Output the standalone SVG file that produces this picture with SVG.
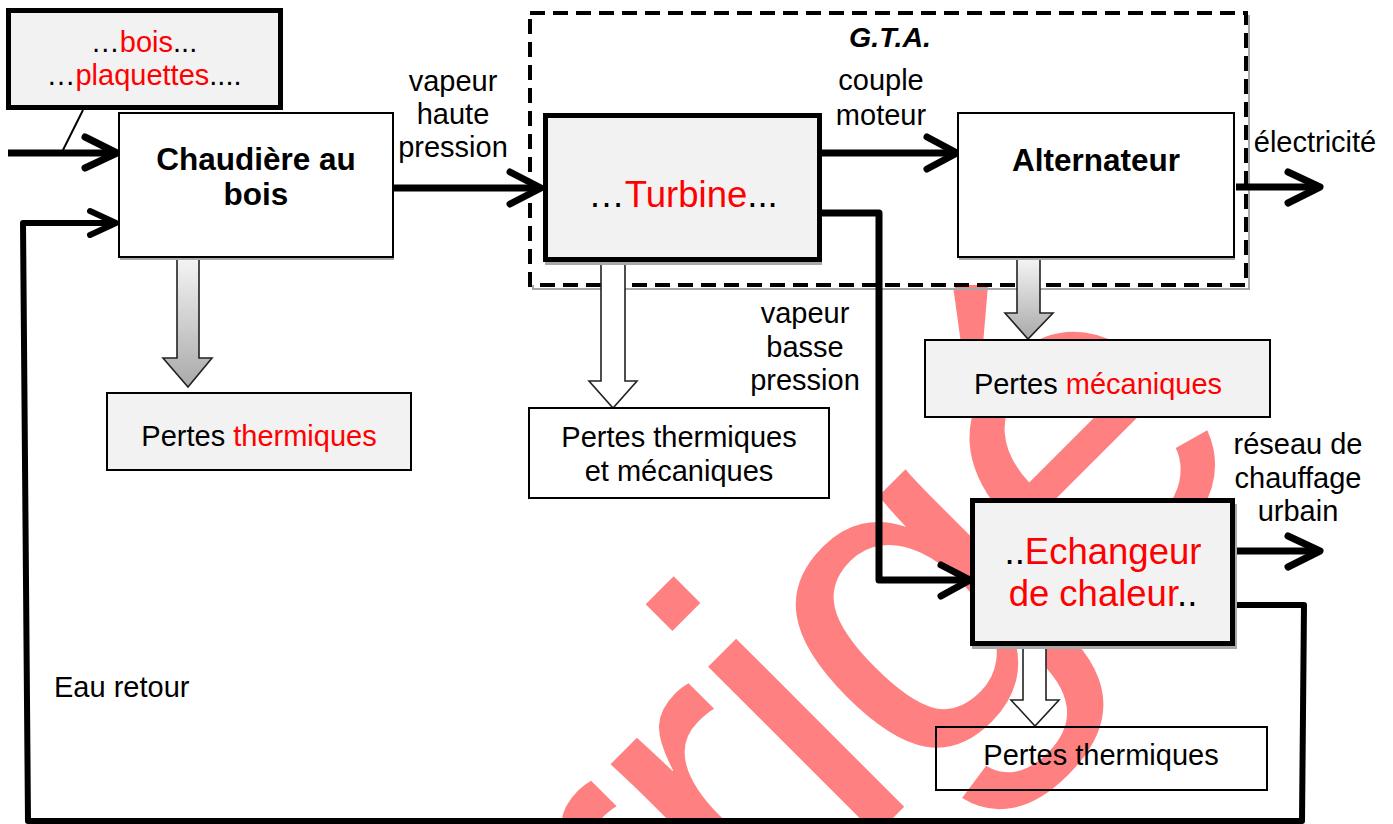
<svg xmlns="http://www.w3.org/2000/svg" width="1393" height="824" viewBox="0 0 1393 824">
<defs>
<style>
text{font-family:"Liberation Sans",Arial,sans-serif;fill:#000}
.r{font-size:29px;text-anchor:middle}
.b{font-size:31.5px;font-weight:bold;text-anchor:middle}
.big{font-size:36.5px;text-anchor:middle}
.red{fill:#ff0000}
.thin{fill:#ffffff;stroke:#000;stroke-width:2}
.grey{fill:#f2f2f2;stroke:#000;stroke-width:2}
.thick{fill:#f2f2f2;stroke:#000;stroke-width:5}
.shadow{fill:#a8a8a8}
.conn{fill:none;stroke:#000;stroke-width:7;stroke-linejoin:round}
.ret{fill:none;stroke:#000;stroke-width:6;stroke-linejoin:round}
.chev{fill:none;stroke:#000;stroke-width:7;stroke-linecap:round;stroke-linejoin:round}
.blk{stroke:#222;stroke-width:1.6;stroke-linejoin:miter}
</style>
<linearGradient id="gg" x1="0" y1="0" x2="0" y2="1">
<stop offset="0" stop-color="#f4f4f4"/>
<stop offset="1" stop-color="#a9a9a9"/>
</linearGradient>
</defs>
<rect width="1393" height="824" fill="#ffffff"/>
<g id="watermark">
<text x="0" y="0" transform="translate(660,1051) rotate(-45)" style="font-size:450px;letter-spacing:-12px;fill:#ff8080">rrigé</text>
</g>
<g id="gta">
<rect x="533" y="16" width="716" height="273" fill="none" stroke="#a6a6a6" stroke-width="2"/>
<rect x="530" y="13" width="716" height="272" fill="#ffffff" stroke="#000" stroke-width="4" stroke-dasharray="15 8"/>
<text x="890" y="47" style="font-size:28.5px;font-weight:bold;font-style:italic;text-anchor:middle">G.T.A.</text>
</g>
<g id="connectors">
<path class="conn" d="M8,153 H112"/>
<polyline class="chev" points="85,137 117,153 85,168"/>
<line x1="83" y1="110" x2="63" y2="150" stroke="#000" stroke-width="2"/>
<path class="conn" d="M393,188 H536"/>
<polyline class="chev" points="510,172 541,188 510,204"/>
<path class="conn" d="M822,153 H952"/>
<polyline class="chev" points="927,137 957,153 927,169"/>
<path class="conn" d="M1236,187 H1315"/>
<polyline class="chev" points="1288,172 1320,187 1288,203"/>
<path class="conn" d="M822,213 H879 V580 H965"/>
<polyline class="chev" points="941,565 970,580 941,596"/>
<path class="conn" d="M1235,551 H1315"/>
<polyline class="chev" points="1288,536 1320,551 1288,567"/>
<path class="ret" d="M1235,605 H1304 L1302,821 H28 L23,223 H112"/>
<polyline class="chev" style="stroke-width:6" points="90,211 116,223 90,235"/>
<polygon class="blk" fill="url(#gg)" points="177,259 199,259 199,358 212,358 188,387 163,358 177,358"/>
<polygon class="blk" fill="#ffffff" points="601,262 625,262 625,381 637,381 613,408 589,381 601,381"/>
<polygon class="blk" fill="url(#gg)" points="1017,259 1040,259 1040,313 1053,313 1028,339 1005,313 1017,313"/>
<polygon class="blk" fill="#ffffff" points="1023,646 1046,646 1046,700 1059,700 1035,726 1011,700 1023,700"/>
</g>
<g id="labels">
<text class="r" x="453" y="91">vapeur</text>
<text class="r" x="453" y="124">haute</text>
<text class="r" x="453" y="157">pression</text>
<text class="r" x="881" y="90">couple</text>
<text class="r" x="881" y="125">moteur</text>
<text class="r" x="1315" y="152">électricité</text>
<text class="r" x="805" y="323">vapeur</text>
<text class="r" x="805" y="357">basse</text>
<text class="r" x="805" y="390">pression</text>
<text class="r" x="1298" y="454">réseau de</text>
<text class="r" x="1298" y="488">chauffage</text>
<text class="r" x="1298" y="521">urbain</text>
<text x="54" y="697" style="font-size:29px">Eau retour</text>
</g>
<g id="combustible">
<rect x="8.5" y="10.5" width="272" height="97" class="thick"/>
<text class="r" x="144" y="52">…<tspan class="red">bois</tspan>...</text>
<text class="r" x="144" y="85">…<tspan class="red">plaquettes</tspan>....</text>
</g>
<g id="chaudiere">
<rect x="120" y="117" width="274" height="143" class="shadow"/>
<rect x="119" y="113" width="274" height="144" class="thin"/>
<text class="b" x="256" y="170">Chaudière au</text>
<text class="b" x="256" y="205">bois</text>
</g>
<g id="turbine">
<rect x="545" y="119" width="277" height="146" class="shadow"/>
<rect x="545.5" y="115.5" width="274" height="144" class="thick"/>
<text class="big" x="683" y="207">…<tspan class="red">Turbine</tspan>...</text>
</g>
<g id="alternateur">
<rect x="959" y="117" width="276" height="143" class="shadow"/>
<rect x="958" y="113" width="276" height="144" class="thin"/>
<text class="b" x="1096" y="171">Alternateur</text>
</g>
<g id="echangeur">
<rect x="972" y="504" width="265" height="145" class="shadow"/>
<rect x="972.5" y="500.5" width="260" height="143" class="thick"/>
<text class="big" x="1103" y="564">..<tspan class="red">Echangeur</tspan></text>
<text class="big" x="1103" y="606"><tspan class="red">de chaleur</tspan>..</text>
</g>
<g id="pertes-chaudiere">
<rect x="107" y="393" width="304" height="77" class="grey"/>
<text class="r" x="259" y="446">Pertes <tspan class="red">thermiques</tspan></text>
</g>
<g id="pertes-turbine">
<rect x="529" y="408" width="300" height="90" class="thin"/>
<text class="r" x="679" y="447">Pertes thermiques</text>
<text class="r" x="679" y="481">et mécaniques</text>
</g>
<g id="pertes-alternateur">
<rect x="925" y="340" width="345" height="77" class="grey"/>
<text class="r" x="1098" y="394">Pertes <tspan class="red">mécaniques</tspan></text>
</g>
<g id="pertes-echangeur">
<rect x="936" y="727" width="331" height="63" fill="none" stroke="#000" stroke-width="2"/>
<text class="r" x="1101" y="765">Pertes thermiques</text>
</g>
</svg>
